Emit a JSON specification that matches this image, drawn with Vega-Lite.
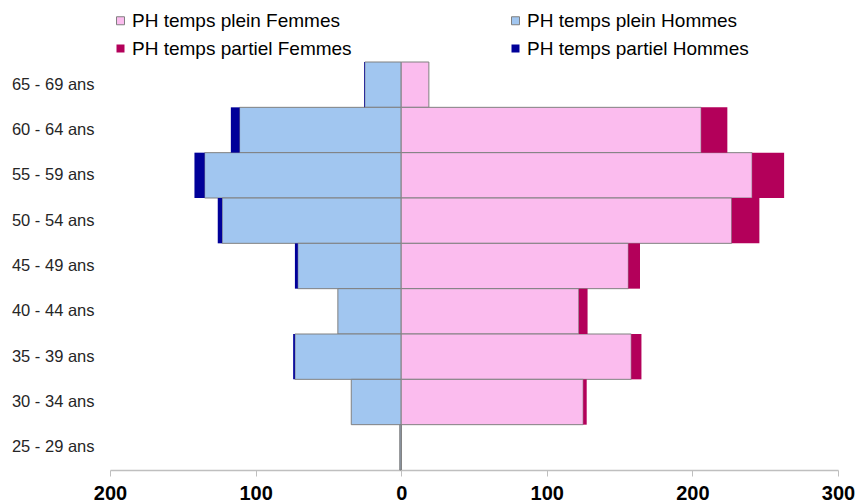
{
  "$schema": "https://vega.github.io/schema/vega-lite/v6.json",
  "autosize": "none",
  "width": 728,
  "height": 408,
  "padding": {"left": 110, "top": 62, "right": 21, "bottom": 34},
  "background": "white",
  "config": {
    "view": {"stroke": null},
    "font": "Liberation Sans"
  },
  "data": {
    "values": [
      {"age": "65 - 69 ans", "serie": "PH temps plein Hommes", "rang": 1, "valeur": -25},
      {"age": "60 - 64 ans", "serie": "PH temps plein Hommes", "rang": 1, "valeur": -111},
      {"age": "55 - 59 ans", "serie": "PH temps plein Hommes", "rang": 1, "valeur": -135},
      {"age": "50 - 54 ans", "serie": "PH temps plein Hommes", "rang": 1, "valeur": -123},
      {"age": "45 - 49 ans", "serie": "PH temps plein Hommes", "rang": 1, "valeur": -71},
      {"age": "40 - 44 ans", "serie": "PH temps plein Hommes", "rang": 1, "valeur": -43.5},
      {"age": "35 - 39 ans", "serie": "PH temps plein Hommes", "rang": 1, "valeur": -73},
      {"age": "30 - 34 ans", "serie": "PH temps plein Hommes", "rang": 1, "valeur": -34.3},
      {"age": "25 - 29 ans", "serie": "PH temps plein Hommes", "rang": 1, "valeur": -1},
      {"age": "65 - 69 ans", "serie": "PH temps partiel Hommes", "rang": 2, "valeur": -0.5},
      {"age": "60 - 64 ans", "serie": "PH temps partiel Hommes", "rang": 2, "valeur": -6},
      {"age": "55 - 59 ans", "serie": "PH temps partiel Hommes", "rang": 2, "valeur": -7},
      {"age": "50 - 54 ans", "serie": "PH temps partiel Hommes", "rang": 2, "valeur": -3},
      {"age": "45 - 49 ans", "serie": "PH temps partiel Hommes", "rang": 2, "valeur": -2},
      {"age": "40 - 44 ans", "serie": "PH temps partiel Hommes", "rang": 2, "valeur": 0},
      {"age": "35 - 39 ans", "serie": "PH temps partiel Hommes", "rang": 2, "valeur": -1.2},
      {"age": "30 - 34 ans", "serie": "PH temps partiel Hommes", "rang": 2, "valeur": 0},
      {"age": "25 - 29 ans", "serie": "PH temps partiel Hommes", "rang": 2, "valeur": 0},
      {"age": "65 - 69 ans", "serie": "PH temps plein Femmes", "rang": 1, "valeur": 19},
      {"age": "60 - 64 ans", "serie": "PH temps plein Femmes", "rang": 1, "valeur": 206},
      {"age": "55 - 59 ans", "serie": "PH temps plein Femmes", "rang": 1, "valeur": 241},
      {"age": "50 - 54 ans", "serie": "PH temps plein Femmes", "rang": 1, "valeur": 227},
      {"age": "45 - 49 ans", "serie": "PH temps plein Femmes", "rang": 1, "valeur": 156},
      {"age": "40 - 44 ans", "serie": "PH temps plein Femmes", "rang": 1, "valeur": 122},
      {"age": "35 - 39 ans", "serie": "PH temps plein Femmes", "rang": 1, "valeur": 158},
      {"age": "30 - 34 ans", "serie": "PH temps plein Femmes", "rang": 1, "valeur": 125},
      {"age": "25 - 29 ans", "serie": "PH temps plein Femmes", "rang": 1, "valeur": 0},
      {"age": "65 - 69 ans", "serie": "PH temps partiel Femmes", "rang": 2, "valeur": 0},
      {"age": "60 - 64 ans", "serie": "PH temps partiel Femmes", "rang": 2, "valeur": 18},
      {"age": "55 - 59 ans", "serie": "PH temps partiel Femmes", "rang": 2, "valeur": 22},
      {"age": "50 - 54 ans", "serie": "PH temps partiel Femmes", "rang": 2, "valeur": 19},
      {"age": "45 - 49 ans", "serie": "PH temps partiel Femmes", "rang": 2, "valeur": 8},
      {"age": "40 - 44 ans", "serie": "PH temps partiel Femmes", "rang": 2, "valeur": 6},
      {"age": "35 - 39 ans", "serie": "PH temps partiel Femmes", "rang": 2, "valeur": 7},
      {"age": "30 - 34 ans", "serie": "PH temps partiel Femmes", "rang": 2, "valeur": 2.4},
      {"age": "25 - 29 ans", "serie": "PH temps partiel Femmes", "rang": 2, "valeur": 0}
    ]
  },
  "mark": {"type": "bar", "strokeWidth": 1},
  "encoding": {
    "y": {
      "field": "age",
      "type": "nominal",
      "sort": ["65 - 69 ans", "60 - 64 ans", "55 - 59 ans", "50 - 54 ans", "45 - 49 ans", "40 - 44 ans", "35 - 39 ans", "30 - 34 ans", "25 - 29 ans"],
      "scale": {"paddingInner": 0, "paddingOuter": 0},
      "axis": {
        "title": null,
        "domain": false,
        "ticks": false,
        "labelFontSize": 16.5,
        "labelColor": "#262626",
        "labelPadding": 16,
        "labelFont": "Liberation Sans"
      }
    },
    "x": {
      "field": "valeur",
      "type": "quantitative",
      "stack": "zero",
      "scale": {"domain": [-200, 300], "nice": false},
      "axis": {
        "title": null,
        "values": [-200, -100, 0, 100, 200, 300],
        "labelExpr": "format(abs(datum.value), 'd')",
        "grid": false,
        "domainColor": "#BFBFBF",
        "domainWidth": 1.5,
        "tickColor": "#BFBFBF",
        "tickSize": 6,
        "labelFontSize": 20,
        "labelFontWeight": "bold",
        "labelColor": "#000000",
        "labelPadding": 7,
        "labelFlush": false,
        "labelOverlap": false
      }
    },
    "order": {"field": "rang", "type": "quantitative"},
    "fill": {
      "field": "serie",
      "type": "nominal",
      "scale": {
        "domain": ["PH temps plein Femmes", "PH temps plein Hommes", "PH temps partiel Femmes", "PH temps partiel Hommes"],
        "range": ["#FBBCEE", "#A1C6F0", "#B3005A", "#000099"]
      },
      "legend": {
        "title": null,
        "orient": "none",
        "legendX": 1,
        "legendY": -51,
        "columns": 2,
        "direction": "horizontal",
        "columnPadding": 154,
        "rowPadding": 8,
        "symbolType": "square",
        "symbolSize": 64,
        "symbolStrokeWidth": 1,
        "symbolOpacity": 1,
        "labelFontSize": 19,
        "labelColor": "#000000",
        "labelOffset": 2,
        "labelLimit": 400,
        "padding": 0
      }
    },
    "stroke": {
      "field": "serie",
      "type": "nominal",
      "scale": {
        "domain": ["PH temps plein Femmes", "PH temps plein Hommes", "PH temps partiel Femmes", "PH temps partiel Hommes"],
        "range": ["#808080", "#808080", "transparent", "transparent"]
      }
    }
  }
}
